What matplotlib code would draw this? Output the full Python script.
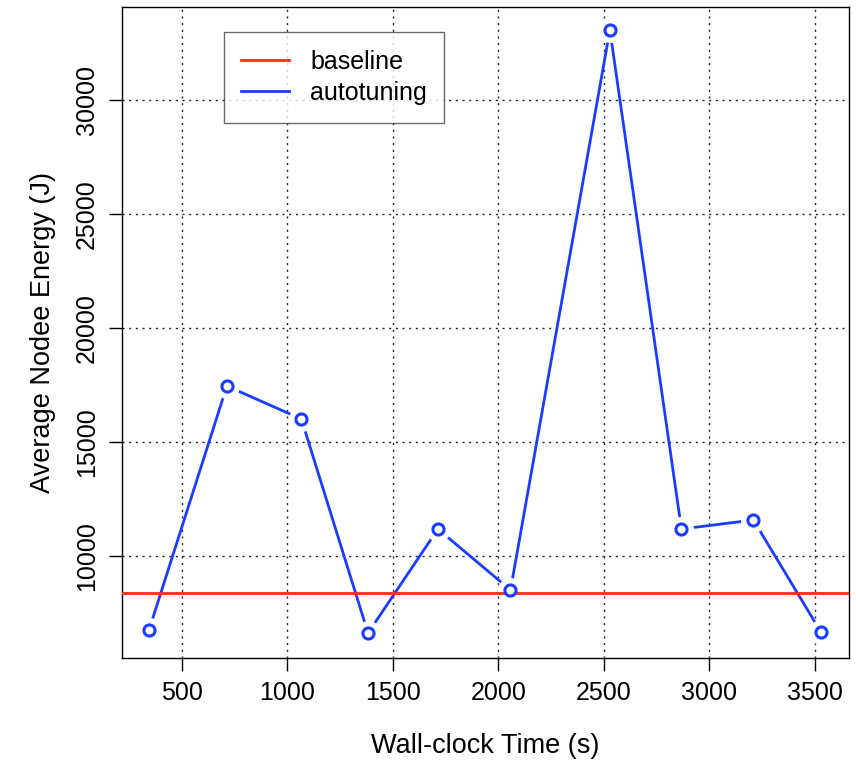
import matplotlib
matplotlib.use("Agg")
import matplotlib.pyplot as plt

plt.rcParams['font.family'] = ['Liberation Sans', 'DejaVu Sans']

wall_time = [344, 713, 1066, 1382, 1713, 2057, 2528, 2867, 3208, 3528]
energy = [6754, 17456, 16009, 6623, 11184, 8509, 33070, 11184, 11579, 6667]
baseline_energy = 8377

x_ticks = [500, 1000, 1500, 2000, 2500, 3000, 3500]
y_ticks = [10000, 15000, 20000, 25000, 30000]

red = '#ff2a14'
blue = '#1a3cff'

fig = plt.figure(figsize=(8.56, 7.61), dpi=100)
ax = fig.add_axes([0.1425, 0.1353, 0.8493, 0.8555])

ax.set_xlim(216, 3661)
ax.set_ylim(5526, 34078)
ax.set_xticks(x_ticks)
ax.set_yticks(y_ticks)
ax.set_yticklabels([str(v) for v in y_ticks], rotation=90, va='center')
ax.tick_params(direction='out', length=9.5, width=1, labelsize=18, pad=7)
ax.grid(True, color='#222222', linestyle=(0, (1.5, 3.3)), linewidth=1)
ax.set_axisbelow(True)
for s in ax.spines.values():
    s.set_linewidth(1)

# R type="b": line with gaps around the points
ax.plot(wall_time, energy, color=blue, lw=2, label='autotuning', zorder=3)
ax.plot(wall_time, energy, 'o', ms=17, mfc='white', mec='white', zorder=3.5)
ax.axhline(baseline_energy, color=red, lw=2, label='baseline', zorder=4)
ax.plot(wall_time, energy, 'o', ms=8, mfc='white', mec=blue, mew=2.2, zorder=5)

ax.set_xlabel('Wall-clock Time (s)', fontsize=19.5, labelpad=20)
ax.set_ylabel('Average Nodee Energy (J)', fontsize=19.5, labelpad=14)

handles, labels = ax.get_legend_handles_labels()
order = [labels.index('baseline'), labels.index('autotuning')]
leg = ax.legend([handles[i] for i in order], [labels[i] for i in order],
                loc='upper left', bbox_to_anchor=(0.1403, 0.9616), fontsize=18,
                frameon=True, fancybox=False, edgecolor='#444444',
                handlelength=1.9, handletextpad=0.85, borderpad=0.7,
                labelspacing=0.3, borderaxespad=0)
leg.get_frame().set_linewidth(1)

fig.savefig('out.png', dpi=100)
